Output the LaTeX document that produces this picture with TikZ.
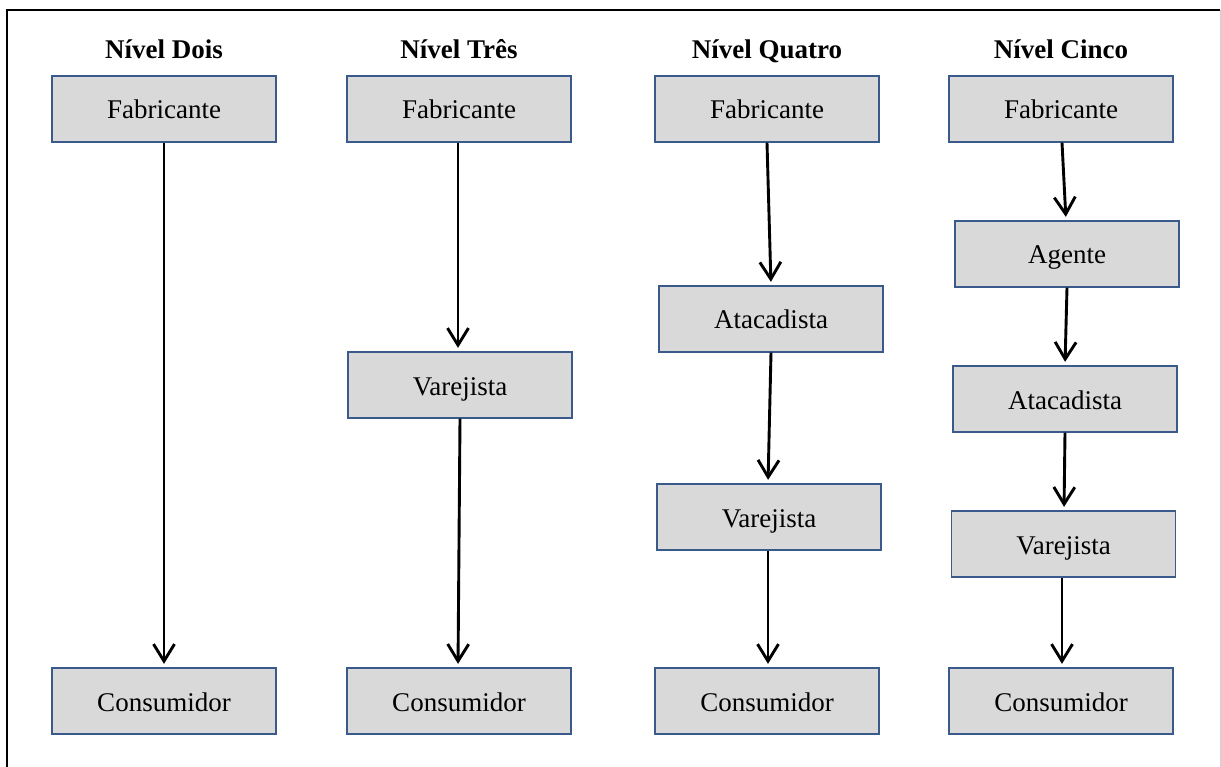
\documentclass[tikz,border=0pt]{standalone}
\usepackage{fontspec}
\setmainfont{Liberation Serif}
\usetikzlibrary{arrows.meta}
\definecolor{boxfill}{HTML}{D9D9D9}
\definecolor{boxline}{HTML}{3A5A8C}
\definecolor{framegray}{HTML}{D0D0D0}
\tikzset{
  stage/.style={draw=boxline, line width=1.3pt, fill=boxfill, rectangle,
    minimum width=224pt, minimum height=66pt, inner sep=0pt,
    text height=25pt, text depth=5pt,
    font=\fontsize{27}{31}\selectfont},
  level/.style={font=\bfseries\fontsize{27}{31}\selectfont, inner sep=0pt,
    anchor=base},
  flow/.style={line width=2.9pt, shorten >=3.5pt,
    -{Straight Barb[length=17pt,width=21pt,line width=2.9pt]}}
}
\begin{document}
\begin{tikzpicture}[x=1pt,y=-1pt]
\useasboundingbox (0,0) rectangle (1221,767);
% outer frame
\draw[line width=1.4pt] (7,767) -- (7,10) -- (1220,10);
\draw[framegray, line width=1pt] (1220,10) -- (1220,767);

% column headers
\node[level] (h2) at (164,59) {Nível Dois};
\node[level] (h3) at (459,59) {Nível Três};
\node[level] (h4) at (767,59) {Nível Quatro};
\node[level] (h5) at (1061,59) {Nível Cinco};

% level two
\node[stage] (f2) at (164,109) {Fabricante};
\node[stage] (c2) at (164,701) {Consumidor};
\draw[flow] (f2.south) -- (c2.north);

% level three
\node[stage] (f3) at (459,109) {Fabricante};
\node[stage] (v3) at (460,385) {Varejista};
\node[stage] (c3) at (459,701) {Consumidor};
\draw[flow] ([xshift=-1pt]f3.south) -- ([xshift=-2pt]v3.north);
\draw[flow] (v3.south) -- ([xshift=-1pt]c3.north);

% level four
\node[stage] (f4) at (767,109) {Fabricante};
\node[stage] (a4) at (771,319) {Atacadista};
\node[stage] (v4) at (769,517) {Varejista};
\node[stage] (c4) at (767,701) {Consumidor};
\draw[flow] (f4.south) -- (a4.north);
\draw[flow] (a4.south) -- ([xshift=-1pt]v4.north);
\draw[flow] ([xshift=-1pt]v4.south) -- ([xshift=1pt]c4.north);

% level five
\node[stage] (f5) at (1061,109) {Fabricante};
\node[stage] (g5) at (1067,254) {Agente};
\node[stage] (a5) at (1065,399) {Atacadista};
\node[stage] (v5) at (1063.5,544) {Varejista};
\node[stage] (c5) at (1061,701) {Consumidor};
\draw[flow] ([xshift=1pt]f5.south) -- ([xshift=-1pt]g5.north);
\draw[flow] (g5.south) -- (a5.north);
\draw[flow] (a5.south) -- ([xshift=0.5pt]v5.north);
\draw[flow] ([xshift=-1.5pt]v5.south) -- ([xshift=1pt]c5.north);
\end{tikzpicture}
\end{document}
